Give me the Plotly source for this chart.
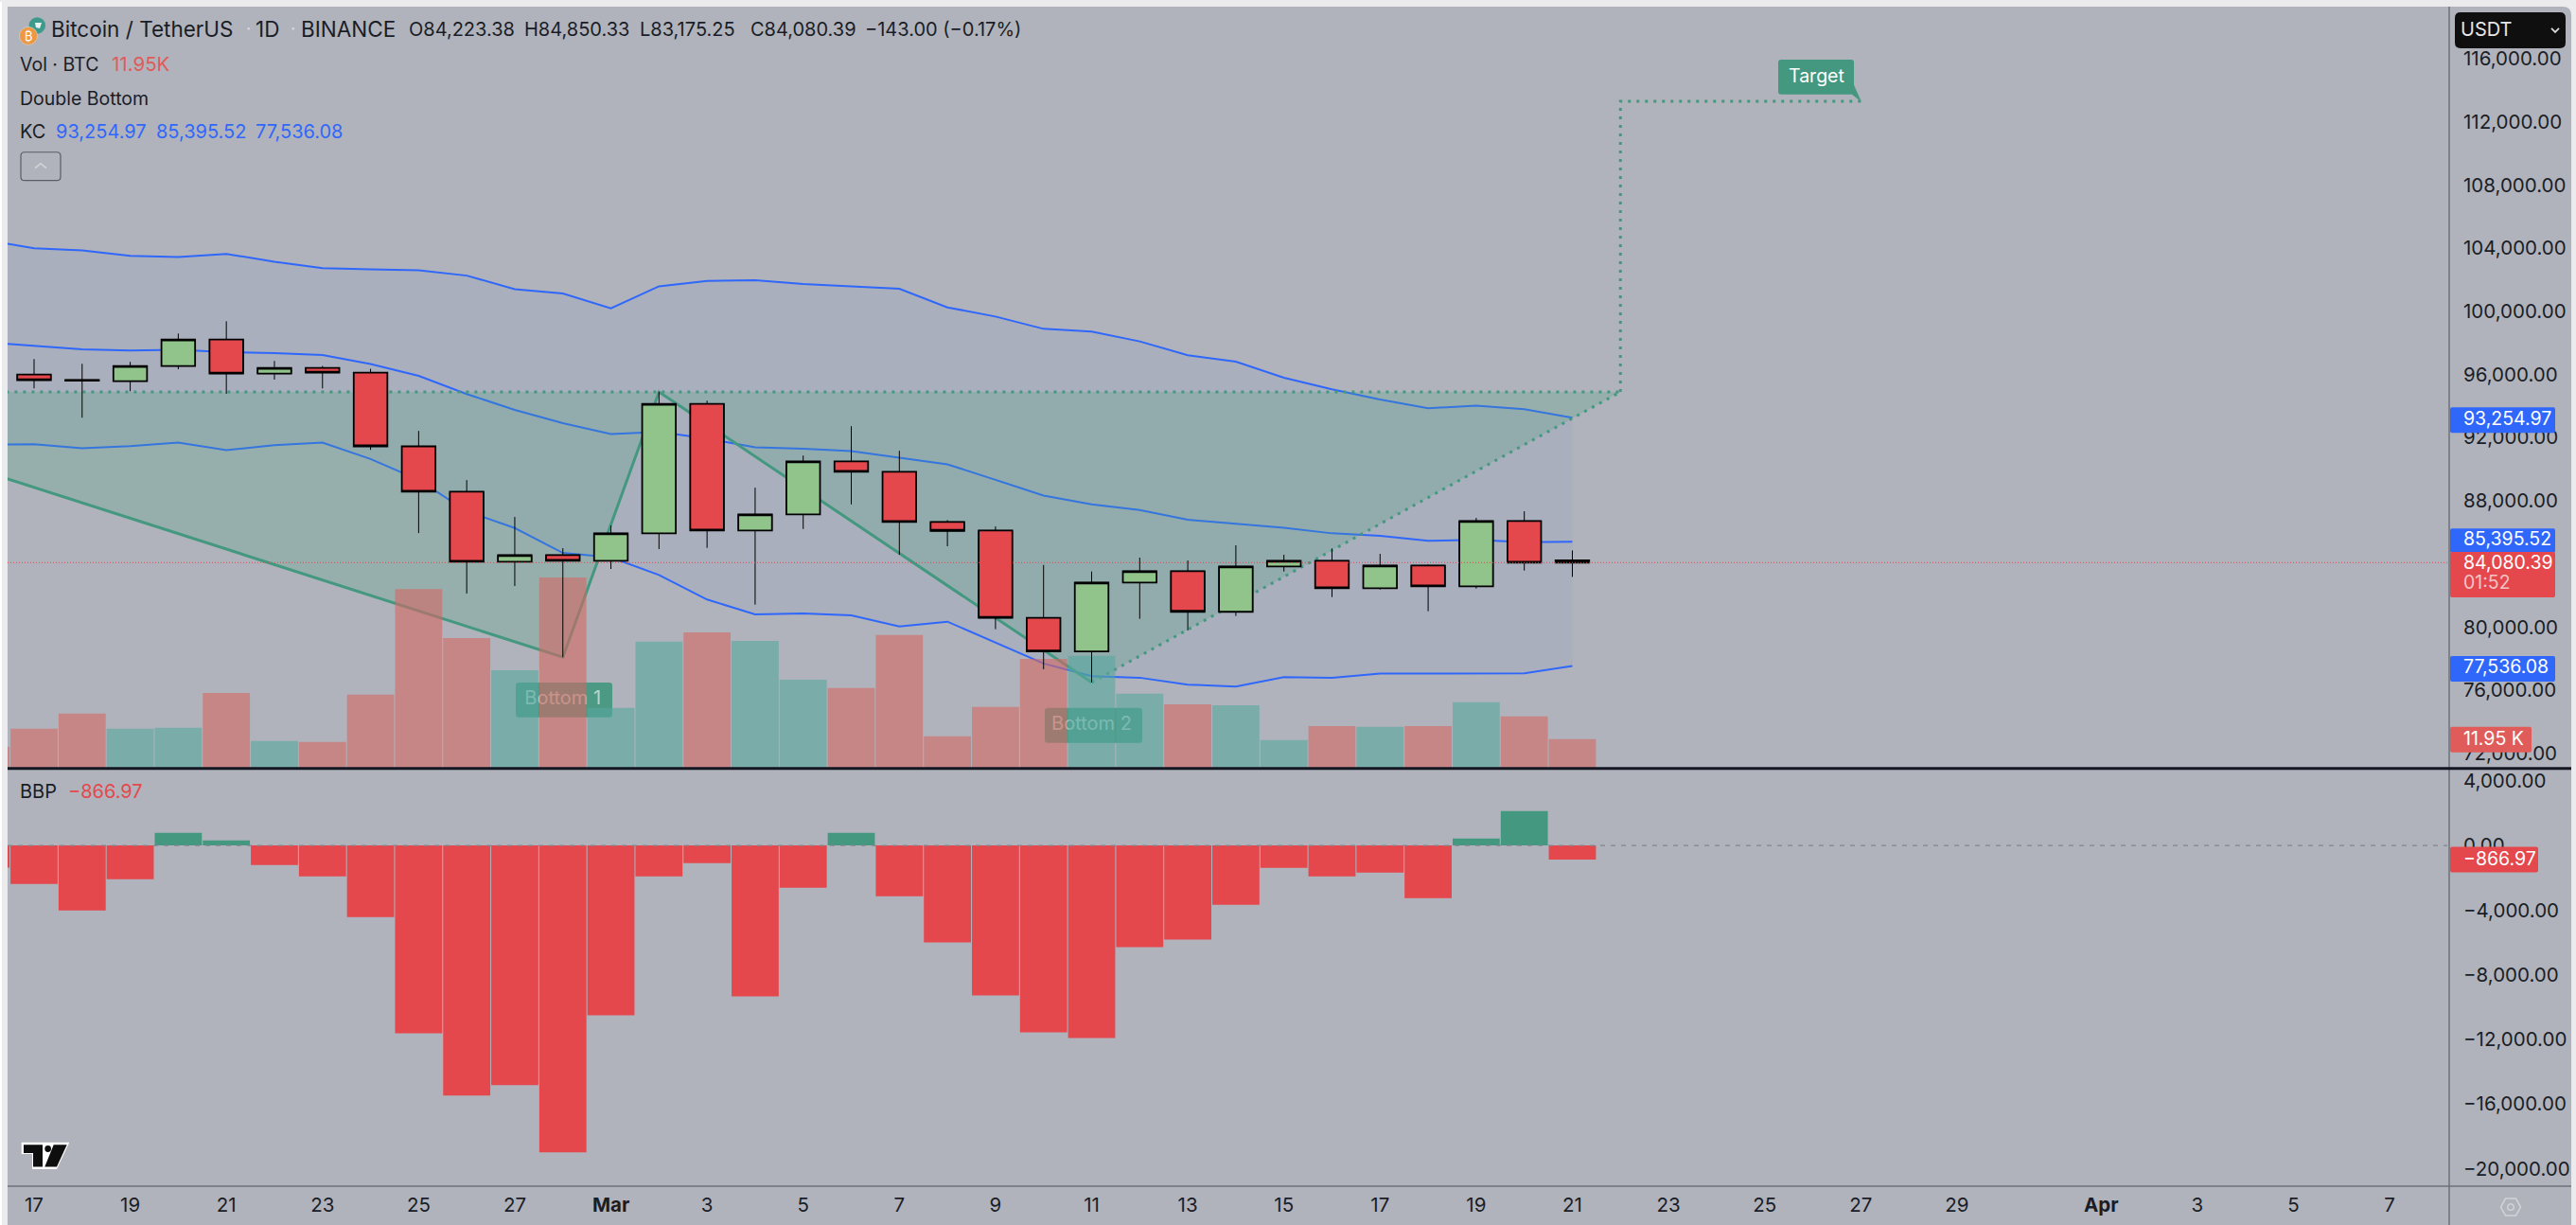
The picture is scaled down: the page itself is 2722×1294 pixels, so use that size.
import plotly.graph_objects as go

# ---------- data ----------
candle_x = list(range(0, 33))
opens = [95994, 95650, 95575, 96533, 98209, 96054, 96413, 96114, 91443, 88569, 84138, 84557, 84198, 85934, 94138, 86114, 87132,
         90485, 89826, 86653, 86114, 80581, 78449, 82820, 83539, 80964, 83838, 84198, 82461, 83898, 82581, 86713, 84223.38]
highs = [96970, 96670, 96790, 98587, 99365, 96850, 96533, 96354, 92419, 89306, 86970, 84994, 86431, 94893, 94335, 88826, 90862,
         92719, 91162, 86772, 86371, 83934, 83515, 84395, 84216, 85174, 84575, 84976, 84635, 83950, 86910, 87329, 84850.33]
lows = [95114, 93257, 94934, 96329, 94773, 95670, 95114, 91221, 85952, 82120, 82599, 78090, 83677, 84934, 85012, 81419, 86210,
        87766, 84575, 85114, 79862, 77329, 76491, 80521, 79784, 80701, 83515, 81898, 82377, 81000, 82437, 83575, 83175.25]
closes = [95635, 95600, 96533, 98209, 96054, 96413, 96114, 91443, 88569, 84138, 84557, 84198, 85934, 94138, 86114, 87132, 90485,
          89826, 86653, 86090, 80581, 78449, 82820, 83539, 80964, 83838, 84198, 82461, 83898, 82581, 86713, 84078, 84080.39]

series_x = list(range(-1, 33))
volumes_k = [8.9, 16.2, 22.4, 16.2, 16.6, 30.8, 11.2, 10.8, 30.1, 73.2, 53.2, 40.1, 77.9, 24.7, 51.7, 55.5, 52.0, 36.2,
             32.8, 54.4, 13.1, 25.1, 44.7, 45.9, 30.5, 26.2, 25.8, 11.6, 17.3, 17.0, 17.3, 27.0, 21.2, 11.95]
volume_up = [False] + [c >= o for o, c in zip(opens, closes)]
bbp = [-1364, -2378, -4015, -2085, 780, 312, -1208, -1910, -4424, -11616, -15475, -14832, -18983, -10505, -1910, -1091, -9336,
       -2612, 780, -3138, -6003, -9277, -11558, -11908, -6295, -5828, -3664, -1384, -1910, -1676, -3255, 429, 2124, -866.97]

kc_upper = [104503, 103994, 103856, 103515, 103437, 103635, 103138, 102736, 102659, 102599, 102257, 101401, 101120, 100186, 101581,
            101922, 101958, 101718, 101581, 101419, 100246, 99665, 98886, 98706, 98090, 97209, 96808, 95790, 95054, 94413, 93856,
            94018, 93796, 93254.97]
kc_middle = [98024, 97808, 97587, 97509, 97551, 97407, 97347, 97227, 96653, 95910, 94754, 93755, 92916, 92221, 92359, 91940, 91383,
             91299, 91144, 90724, 90305, 89323, 88329, 87766, 87407, 86790, 86533, 86293, 85934, 85772, 85455, 85515, 85371, 85395.52]
kc_lower = [91551, 91581, 91323, 91461, 91683, 91204, 91521, 91683, 90641, 89323, 87329, 86270, 84695, 84413, 83299, 81743, 80802,
            80862, 80742, 80042, 80341, 79006, 77689, 76892, 76790, 76353, 76234, 76832, 76790, 77048, 77048, 77090, 77072, 77536.08]

pattern_x = [-2, 11, 13, 22]
pattern_y = [90800, 78090, 94893, 76491]
neck_x = [-2, 33]
neck_y = [94893, 94893]
rise_x = [22, 33]
rise_y = [76491, 94893]
target_x = [33, 33, 38]
target_y = [94893, 113300, 113300]
left_fill_x = [-2, 11, 13, -2, -2]
left_fill_y = [90800, 78090, 94893, 94893, 90800]
right_fill_x = [13, 22, 33, 13]
right_fill_y = [94893, 76491, 94893, 94893]
label_x = [11, 22]
label_y = [75383, 73778]
label_text = ["Bottom 1", "Bottom 2"]

price_ticks = [72000, 76000, 80000, 88000, 92000, 96000, 100000, 104000, 108000, 112000, 116000]
bbp_ticks = [4000, 0, -4000, -8000, -12000, -16000, -20000]
date_ticks = [0, 2, 4, 6, 8, 10, 12, 14, 16, 18, 20, 22, 24, 26, 28, 30, 32, 34, 36, 38, 40, 43, 45, 47, 49]
date_labels = ["17", "19", "21", "23", "25", "27", "<b>Mar</b>", "3", "5", "7", "9", "11", "13", "15", "17", "19", "21",
               "23", "25", "27", "29", "<b>Apr</b>", "3", "5", "7"]

# ---------- style ----------
W, H = 2722, 1294
BG = "#B0B3BB"
INK = "#1A1D26"
RED = "#E4484D"
GREEN = "#44987F"
BLUE = "#3067FB"
FONT = "Inter"
DOT = "3px,6px"


def px(x):
    return x / W


def py(y):
    return 1 - y / H


def P(x, y):
    return f"{px(x):.6f},{py(y):.6f}"


def rrect(x0, y0, x1, y1, r=3):
    return (f"M {P(x0 + r, y0)} L {P(x1 - r, y0)} Q {P(x1, y0)} {P(x1, y0 + r)} L {P(x1, y1 - r)} Q {P(x1, y1)} {P(x1 - r, y1)} "
            f"L {P(x0 + r, y1)} Q {P(x0, y1)} {P(x0, y1 - r)} L {P(x0, y0 + r)} Q {P(x0, y0)} {P(x0 + r, y0)} Z")


def poly(pts):
    return "M " + " L ".join(P(a, b) for a, b in pts) + " Z"


def open_path(pts):
    return "M " + " L ".join(P(a, b) for a, b in pts)


def pshape(path, fill="rgba(0,0,0,0)", line=None, lw=0, layer="above"):
    return dict(type="path", xref="paper", yref="paper", path=path, fillcolor=fill, layer=layer,
                line=dict(color=line or "rgba(0,0,0,0)", width=lw))


def box(x0, y0, x1, y1, fill, layer="above"):
    return dict(type="rect", xref="paper", yref="paper", x0=px(x0), x1=px(x1), y0=py(y1), y1=py(y0), fillcolor=fill,
                layer=layer, line=dict(width=0))


def note(x, y, text, color=INK, size=20, anchor="left"):
    return dict(xref="paper", yref="paper", x=px(x), y=py(y), text=text, showarrow=False, xanchor=anchor, yanchor="middle",
                font=dict(family=FONT, size=size, color=color), align="left")


fig = go.Figure()

# KC band
fig.add_trace(go.Scatter(x=series_x, y=kc_upper, mode="lines", line=dict(color=BLUE, width=2), xaxis="x", yaxis="y"))
fig.add_trace(go.Scatter(x=series_x, y=kc_lower, mode="lines", line=dict(color=BLUE, width=2), fill="tonexty",
                         fillcolor="rgba(30,110,240,0.05)", xaxis="x", yaxis="y"))
fig.add_trace(go.Scatter(x=series_x, y=kc_middle, mode="lines", line=dict(color=BLUE, width=2), xaxis="x", yaxis="y"))

# Double-bottom pattern
for fx, fy in ((left_fill_x, left_fill_y), (right_fill_x, right_fill_y)):
    fig.add_trace(go.Scatter(x=fx, y=fy, mode="none", fill="toself", fillcolor="rgba(70,165,125,0.23)", xaxis="x", yaxis="y"))
fig.add_trace(go.Scatter(x=pattern_x, y=pattern_y, mode="lines", line=dict(color=GREEN, width=3), xaxis="x", yaxis="y"))
for lx, ly in ((neck_x, neck_y), (rise_x, rise_y), (target_x, target_y)):
    fig.add_trace(go.Scatter(x=lx, y=ly, mode="lines", line=dict(color=GREEN, width=3, dash=DOT), xaxis="x", yaxis="y"))
fig.add_trace(go.Scatter(x=label_x, y=label_y, mode="text", text=label_text, textposition="middle center",
                         textfont=dict(family=FONT, size=20, color="rgba(255,255,255,0.6)"), xaxis="x", yaxis="y"))

# Volume
fig.add_trace(go.Bar(x=series_x, y=volumes_k, width=0.98,
                     marker=dict(color=["rgba(86,167,158,0.6)" if u else "rgba(214,104,98,0.6)" for u in volume_up], line=dict(width=0)),
                     xaxis="x", yaxis="y3"))

# Candles: thin wicks first, then bodies with a heavier outline on top
fig.add_trace(go.Candlestick(x=candle_x, open=opens, high=highs, low=lows, close=closes, whiskerwidth=0,
                             increasing=dict(fillcolor="#91C48B", line=dict(color="#000000", width=1)),
                             decreasing=dict(fillcolor="#E4484D", line=dict(color="#000000", width=1)),
                             xaxis="x", yaxis="y4"))
fig.add_trace(go.Candlestick(x=candle_x, open=opens, close=closes,
                             high=[max(o, c) for o, c in zip(opens, closes)],
                             low=[min(o, c) for o, c in zip(opens, closes)], whiskerwidth=0,
                             increasing=dict(fillcolor="#91C48B", line=dict(color="#000000", width=1.8)),
                             decreasing=dict(fillcolor="#E4484D", line=dict(color="#000000", width=1.8)),
                             xaxis="x", yaxis="y4"))

# BBP
fig.add_trace(go.Bar(x=series_x, y=bbp, width=0.98,
                     marker=dict(color=[GREEN if v > 0 else RED for v in bbp], line=dict(width=0)),
                     xaxis="x2", yaxis="y2"))

shapes = [
    box(0, 0, 2, H, "#FFFFFF", "below"),
    pshape(f"M {P(8, 5)} L {P(2708, 5)} Q {P(2717, 5)} {P(2717, 14)} L {P(2717, H)} L {P(8, H)} Z", fill=BG, layer="below"),
    # label boxes beneath the volume bars
    pshape(rrect(545, 720, 647, 757), fill="rgba(68,152,127,0.92)", layer="below"),
    pshape(rrect(1104, 747, 1207, 784), fill="rgba(68,152,127,0.92)", layer="below"),
    # price and zero lines
    dict(type="line", xref="paper", yref="y", x0=px(8), x1=px(2586), y0=84080.39, y1=84080.39, layer="above",
         line=dict(color=RED, width=1, dash="1px,2px")),
    dict(type="line", xref="paper", yref="y2", x0=px(8), x1=px(2586), y0=0, y1=0, layer="above",
         line=dict(color="#82858D", width=1.2, dash="5px,6px")),
    # separators
    dict(type="line", xref="paper", yref="paper", x0=px(2588), x1=px(2588), y0=py(5), y1=py(H), layer="above",
         line=dict(color="#6E717A", width=1.5)),
    dict(type="line", xref="paper", yref="paper", x0=px(8), x1=px(2717), y0=py(811), y1=py(811), layer="above",
         line=dict(color="#131722", width=3)),
    dict(type="line", xref="paper", yref="paper", x0=px(8), x1=px(2717), y0=py(1253), y1=py(1253), layer="above",
         line=dict(color="#6E717A", width=1.5)),
    # axis value tags
    pshape(rrect(2589, 429, 2700, 456, 2), fill="#3067FB"),
    pshape(rrect(2589, 557, 2700, 583, 2), fill="#3067FB"),
    pshape(rrect(2589, 582, 2700, 630, 2), fill=RED),
    pshape(rrect(2589, 692, 2700, 719, 2), fill="#3067FB"),
    pshape(rrect(2589, 767, 2675, 794, 2), fill="#E05C5A"),
    pshape(rrect(2589, 894, 2682, 921, 2), fill=RED),
    # USDT selector
    pshape(rrect(2594, 11, 2711, 49, 6), fill="#0F0F0F"),
    pshape(open_path([(2696, 28), (2700, 32), (2704, 28)]), line="#D8D8D8", lw=1.8),
    # Target callout
    pshape(rrect(1879, 61, 1959, 98, 3), fill=GREEN),
    pshape(poly([(1957, 88), (1959, 88), (1967, 106), (1957, 98)]), fill=GREEN),
    # collapse button
    pshape(rrect(22, 159, 64, 189, 4), line="#5A5D66", lw=1.2),
    pshape(open_path([(37, 176), (43, 171), (49, 176)]), line="#D3D5D9", lw=1.6),
    # symbol icon
    dict(type="circle", xref="paper", yref="paper", x0=px(30.6), x1=px(48), y0=py(33.7), y1=py(16.3), fillcolor="#3F9A8E", line=dict(width=0), layer="above"),
    pshape(poly([(37, 22), (44, 22), (42, 28), (38, 27)]), fill="#E8F2F0"),
    dict(type="circle", xref="paper", yref="paper", x0=px(20.5), x1=px(39.5), y0=py(45.5), y1=py(26.5), fillcolor="#F0983E",
         line=dict(color="#C9CBD0", width=0.8), layer="above"),
    # TradingView mark
    pshape(poly([(22.7, 1206.7), (73.3, 1206.7), (60, 1235), (34, 1235), (34, 1219), (22.7, 1219)]), fill="#FFFFFF"),
    pshape(poly([(25, 1209), (45, 1209), (45, 1232.3), (35, 1232.3), (35, 1218), (25, 1218)]), fill="#0E0E0E"),
    pshape(poly([(56.7, 1209), (70.7, 1209), (60, 1232.3), (47.3, 1232.3)]), fill="#0E0E0E"),
    dict(type="circle", xref="paper", yref="paper", x0=px(47.3), x1=px(54), y0=py(1216.8), y1=py(1209.8), fillcolor="#0E0E0E", line=dict(width=0), layer="above"),
    # settings hexagon
    pshape(poly([(2642.5, 1275), (2647.5, 1266), (2658.5, 1266), (2663.5, 1275), (2658.5, 1284), (2647.5, 1284)]), line="#D2D4D8", lw=1.5),
    dict(type="circle", xref="paper", yref="paper", x0=px(2649.7), x1=px(2656.3), y0=py(1278.3), y1=py(1271.7), line=dict(color="#D2D4D8", width=1.5), layer="above"),
]

annotations = [
    note(52, 29, "Bitcoin / TetherUS", size=22.5),
    note(258, 29, "·", color="#D5D7DB", size=19),
    note(268, 29, "1D", size=22.5),
    note(305, 29, "·", color="#D5D7DB", size=19),
    note(316, 29, "BINANCE", size=22.5),
    note(430, 29, "O84,223.38", size=20),
    note(552, 29, "H84,850.33", size=20),
    note(674, 29, "L83,175.25", size=20),
    note(791, 29, "C84,080.39", size=20),
    note(912, 29, "−143.00 (−0.17%)", size=20),
    note(19, 65.7, "Vol · BTC", size=19.5),
    note(116, 65.7, "11.95K", color="#DE5C5A", size=20.5),
    note(19, 101.7, "Double Bottom", size=19.5),
    note(19, 137.3, "KC", size=20),
    note(57, 137.3, "93,254.97", color=BLUE, size=20),
    note(163, 137.3, "85,395.52", color=BLUE, size=20),
    note(268, 137.3, "77,536.08", color=BLUE, size=20),
    note(19, 835, "BBP", size=20),
    note(70, 835, "−866.97", color=RED, size=20),
    note(30, 36, "₿", color="#FFFFFF", size=13, anchor="center"),
    note(2598, 29, "USDT", color="#E6E6E6", size=20),
    note(1919, 78.5, "Target", color="#FFFFFF", size=19.5, anchor="center"),
    note(2601, 440.5, "93,254.97", color="#FFFFFF", size=19.5),
    note(2601, 567.5, "85,395.52", color="#FFFFFF", size=19.5),
    note(2601, 593, "84,080.39", color="#FFFFFF", size=19.5),
    note(2601, 614, "01:52", color="#F2C4C6", size=19.5),
    note(2601, 703, "77,536.08", color="#FFFFFF", size=19.5),
    note(2601, 779.5, "11.95 K", color="#FFFFFF", size=19.5),
    note(2601, 906.5, "−866.97", color="#FFFFFF", size=19.5),
]

xrange = [-0.551, 50.24]
xdom = [px(8), px(2588)]
tick_font = dict(family=FONT, size=20.5, color=INK)
fig.update_layout(
    width=W, height=H, autosize=False, margin=dict(l=0, r=0, t=0, b=0),
    paper_bgcolor="#EBEBED", plot_bgcolor="rgba(0,0,0,0)", showlegend=False, barmode="overlay", boxmode="overlay", boxgap=0.0,
    hovermode=False, shapes=shapes, annotations=annotations,
    xaxis=dict(domain=xdom, range=xrange, anchor="y", visible=False, fixedrange=True, rangeslider=dict(visible=False)),
    xaxis2=dict(domain=xdom, range=xrange, anchor="y2", tickmode="array", tickvals=date_ticks, ticktext=date_labels,
                showgrid=False, zeroline=False, showline=False, ticks="", tickfont=tick_font, ticklabelstandoff=5, tickangle=0),
    yaxis=dict(domain=[py(811), py(5)], range=[71042, 119293], anchor="x", side="right", tickmode="array", tickvals=price_ticks,
               tickformat=",.2f", showgrid=False, zeroline=False, ticks="", tickfont=tick_font, ticklabelstandoff=14),
    yaxis2=dict(domain=[py(1253), py(813)], range=[-21082, 4649], anchor="x2", side="right", tickmode="array", tickvals=bbp_ticks,
                tickformat=",.2f", showgrid=False, zeroline=False, ticks="", tickfont=tick_font, ticklabelstandoff=14),
    yaxis3=dict(domain=[py(811), py(5)], range=[0, 310.7], anchor="x", overlaying="y", side="left", visible=False),
    yaxis4=dict(domain=[py(811), py(5)], range=[71042, 119293], anchor="x", overlaying="y", side="right", visible=False),
)

fig.write_html("out.html", config=dict(displayModeBar=False),
               post_script="document.body.style.margin='0';document.body.style.overflow='hidden';")
